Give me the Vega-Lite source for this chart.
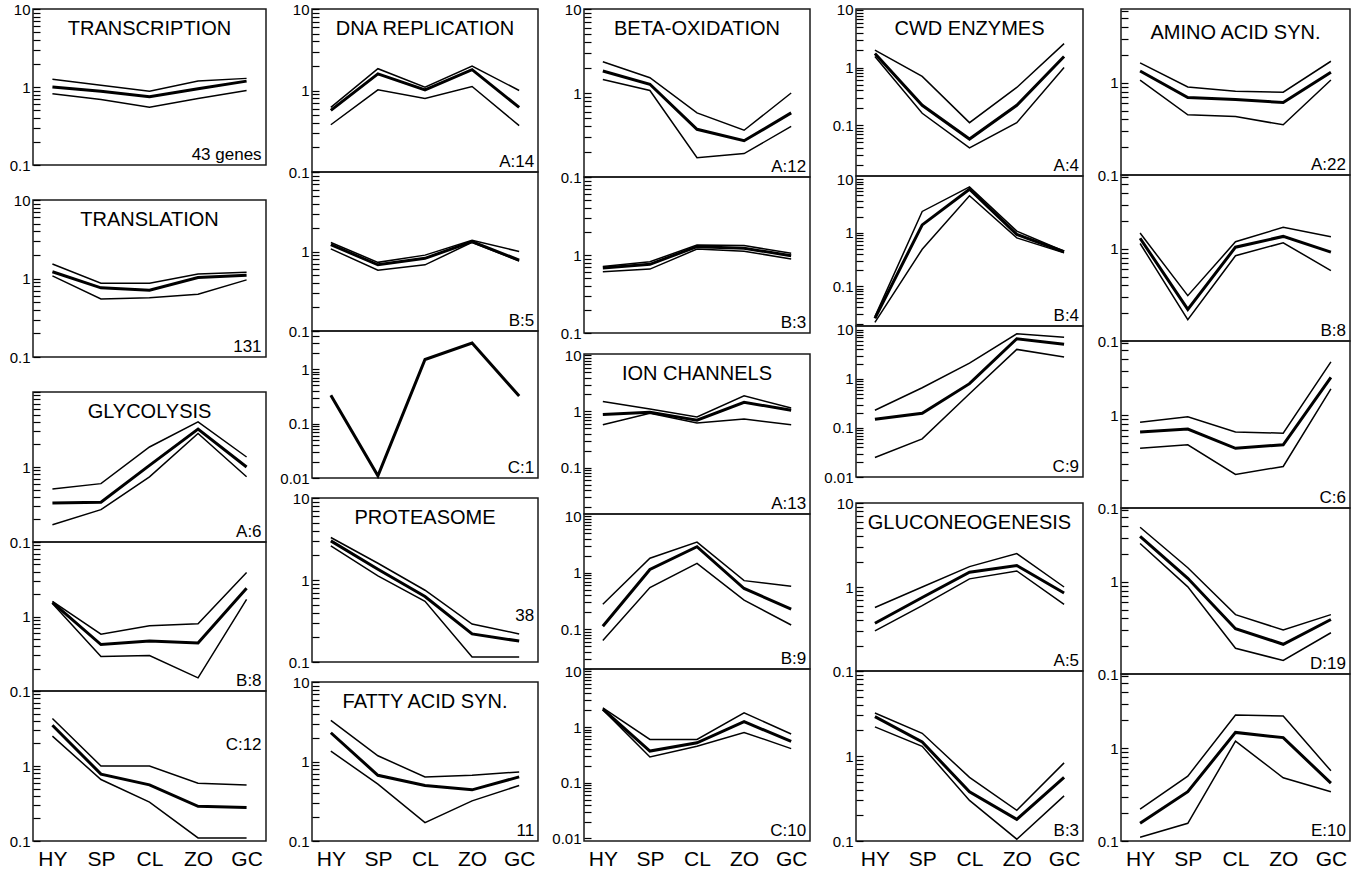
{
"$schema":"https://vega.github.io/schema/vega-lite/v6.json",
"padding":{"left":8,"top":1,"right":2,"bottom":0},
"background":"white",
"spacing":12,
"config":{
 "view":{"stroke":"#1a1a1a","strokeWidth":1.5},
 "axis":{"labelFont":"Liberation Sans","labelColor":"black","grid":false,"domain":false,"labelOverlap":false},
 "axisY":{"offset":-7,"ticks":true,"tickSize":7,"tickWidth":1.2,"tickColor":"#000000","tickOpacity":1,"labelPadding":3,"labelFontSize":15},
 "axisX":{"ticks":false,"labelFontSize":21,"labelPadding":7,"labelAngle":0},
 "text":{"font":"Liberation Sans","color":"black"},
 "line":{"color":"black","strokeJoin":"miter"}
},
"datasets":{"d":[
{"p":"T","k":"h","s":"HY","v":1.26},{"p":"T","k":"h","s":"SP","v":1.05},{"p":"T","k":"h","s":"CL","v":0.88},{"p":"T","k":"h","s":"ZO","v":1.19},{"p":"T","k":"h","s":"GC","v":1.29},
{"p":"T","k":"m","s":"HY","v":1.0},{"p":"T","k":"m","s":"SP","v":0.88},{"p":"T","k":"m","s":"CL","v":0.75},{"p":"T","k":"m","s":"ZO","v":0.95},{"p":"T","k":"m","s":"GC","v":1.19},
{"p":"T","k":"l","s":"HY","v":0.82},{"p":"T","k":"l","s":"SP","v":0.69},{"p":"T","k":"l","s":"CL","v":0.55},{"p":"T","k":"l","s":"ZO","v":0.71},{"p":"T","k":"l","s":"GC","v":0.9},
{"p":"Tr","k":"h","s":"HY","v":1.53},{"p":"Tr","k":"h","s":"SP","v":0.87},{"p":"Tr","k":"h","s":"CL","v":0.87},{"p":"Tr","k":"h","s":"ZO","v":1.14},{"p":"Tr","k":"h","s":"GC","v":1.2},
{"p":"Tr","k":"m","s":"HY","v":1.22},{"p":"Tr","k":"m","s":"SP","v":0.76},{"p":"Tr","k":"m","s":"CL","v":0.71},{"p":"Tr","k":"m","s":"ZO","v":1.03},{"p":"Tr","k":"m","s":"GC","v":1.1},
{"p":"Tr","k":"l","s":"HY","v":1.08},{"p":"Tr","k":"l","s":"SP","v":0.55},{"p":"Tr","k":"l","s":"CL","v":0.57},{"p":"Tr","k":"l","s":"ZO","v":0.63},{"p":"Tr","k":"l","s":"GC","v":0.96},
{"p":"GA","k":"h","s":"HY","v":0.51},{"p":"GA","k":"h","s":"SP","v":0.6},{"p":"GA","k":"h","s":"CL","v":1.85},{"p":"GA","k":"h","s":"ZO","v":4.0},{"p":"GA","k":"h","s":"GC","v":1.36},
{"p":"GA","k":"m","s":"HY","v":0.33},{"p":"GA","k":"m","s":"SP","v":0.34},{"p":"GA","k":"m","s":"CL","v":1.05},{"p":"GA","k":"m","s":"ZO","v":3.2},{"p":"GA","k":"m","s":"GC","v":1.0},
{"p":"GA","k":"l","s":"HY","v":0.17},{"p":"GA","k":"l","s":"SP","v":0.27},{"p":"GA","k":"l","s":"CL","v":0.74},{"p":"GA","k":"l","s":"ZO","v":2.8},{"p":"GA","k":"l","s":"GC","v":0.74},
{"p":"GB","k":"h","s":"HY","v":1.6},{"p":"GB","k":"h","s":"SP","v":0.58},{"p":"GB","k":"h","s":"CL","v":0.75},{"p":"GB","k":"h","s":"ZO","v":0.8},{"p":"GB","k":"h","s":"GC","v":3.9},
{"p":"GB","k":"m","s":"HY","v":1.55},{"p":"GB","k":"m","s":"SP","v":0.42},{"p":"GB","k":"m","s":"CL","v":0.47},{"p":"GB","k":"m","s":"ZO","v":0.44},{"p":"GB","k":"m","s":"GC","v":2.4},
{"p":"GB","k":"l","s":"HY","v":1.5},{"p":"GB","k":"l","s":"SP","v":0.29},{"p":"GB","k":"l","s":"CL","v":0.3},{"p":"GB","k":"l","s":"ZO","v":0.15},{"p":"GB","k":"l","s":"GC","v":1.7},
{"p":"GC","k":"h","s":"HY","v":4.3},{"p":"GC","k":"h","s":"SP","v":1.0},{"p":"GC","k":"h","s":"CL","v":1.0},{"p":"GC","k":"h","s":"ZO","v":0.59},{"p":"GC","k":"h","s":"GC","v":0.56},
{"p":"GC","k":"m","s":"HY","v":3.5},{"p":"GC","k":"m","s":"SP","v":0.78},{"p":"GC","k":"m","s":"CL","v":0.56},{"p":"GC","k":"m","s":"ZO","v":0.29},{"p":"GC","k":"m","s":"GC","v":0.28},
{"p":"GC","k":"l","s":"HY","v":2.5},{"p":"GC","k":"l","s":"SP","v":0.66},{"p":"GC","k":"l","s":"CL","v":0.33},{"p":"GC","k":"l","s":"ZO","v":0.11},{"p":"GC","k":"l","s":"GC","v":0.11},
{"p":"DA","k":"h","s":"HY","v":0.62},{"p":"DA","k":"h","s":"SP","v":1.85},{"p":"DA","k":"h","s":"CL","v":1.1},{"p":"DA","k":"h","s":"ZO","v":2.0},{"p":"DA","k":"h","s":"GC","v":1.0},
{"p":"DA","k":"m","s":"HY","v":0.57},{"p":"DA","k":"m","s":"SP","v":1.6},{"p":"DA","k":"m","s":"CL","v":1.02},{"p":"DA","k":"m","s":"ZO","v":1.8},{"p":"DA","k":"m","s":"GC","v":0.62},
{"p":"DA","k":"l","s":"HY","v":0.38},{"p":"DA","k":"l","s":"SP","v":1.02},{"p":"DA","k":"l","s":"CL","v":0.8},{"p":"DA","k":"l","s":"ZO","v":1.12},{"p":"DA","k":"l","s":"GC","v":0.37},
{"p":"DB","k":"h","s":"HY","v":1.3},{"p":"DB","k":"h","s":"SP","v":0.73},{"p":"DB","k":"h","s":"CL","v":0.9},{"p":"DB","k":"h","s":"ZO","v":1.38},{"p":"DB","k":"h","s":"GC","v":1.0},
{"p":"DB","k":"m","s":"HY","v":1.22},{"p":"DB","k":"m","s":"SP","v":0.68},{"p":"DB","k":"m","s":"CL","v":0.82},{"p":"DB","k":"m","s":"ZO","v":1.33},{"p":"DB","k":"m","s":"GC","v":0.78},
{"p":"DB","k":"l","s":"HY","v":1.08},{"p":"DB","k":"l","s":"SP","v":0.58},{"p":"DB","k":"l","s":"CL","v":0.68},{"p":"DB","k":"l","s":"ZO","v":1.3},{"p":"DB","k":"l","s":"GC","v":0.76},
{"p":"DC","k":"m","s":"HY","v":0.33},{"p":"DC","k":"m","s":"SP","v":0.011},{"p":"DC","k":"m","s":"CL","v":1.5},{"p":"DC","k":"m","s":"ZO","v":3.0},{"p":"DC","k":"m","s":"GC","v":0.32},
{"p":"P","k":"h","s":"HY","v":3.3},{"p":"P","k":"h","s":"SP","v":1.6},{"p":"P","k":"h","s":"CL","v":0.75},{"p":"P","k":"h","s":"ZO","v":0.29},{"p":"P","k":"h","s":"GC","v":0.22},
{"p":"P","k":"m","s":"HY","v":3.0},{"p":"P","k":"m","s":"SP","v":1.35},{"p":"P","k":"m","s":"CL","v":0.63},{"p":"P","k":"m","s":"ZO","v":0.22},{"p":"P","k":"m","s":"GC","v":0.18},
{"p":"P","k":"l","s":"HY","v":2.6},{"p":"P","k":"l","s":"SP","v":1.12},{"p":"P","k":"l","s":"CL","v":0.55},{"p":"P","k":"l","s":"ZO","v":0.115},{"p":"P","k":"l","s":"GC","v":0.115},
{"p":"F","k":"h","s":"HY","v":3.3},{"p":"F","k":"h","s":"SP","v":1.18},{"p":"F","k":"h","s":"CL","v":0.64},{"p":"F","k":"h","s":"ZO","v":0.67},{"p":"F","k":"h","s":"GC","v":0.74},
{"p":"F","k":"m","s":"HY","v":2.3},{"p":"F","k":"m","s":"SP","v":0.67},{"p":"F","k":"m","s":"CL","v":0.5},{"p":"F","k":"m","s":"ZO","v":0.44},{"p":"F","k":"m","s":"GC","v":0.64},
{"p":"F","k":"l","s":"HY","v":1.35},{"p":"F","k":"l","s":"SP","v":0.52},{"p":"F","k":"l","s":"CL","v":0.17},{"p":"F","k":"l","s":"ZO","v":0.32},{"p":"F","k":"l","s":"GC","v":0.5},
{"p":"BA","k":"h","s":"HY","v":2.35},{"p":"BA","k":"h","s":"SP","v":1.52},{"p":"BA","k":"h","s":"CL","v":0.58},{"p":"BA","k":"h","s":"ZO","v":0.36},{"p":"BA","k":"h","s":"GC","v":1.0},
{"p":"BA","k":"m","s":"HY","v":1.83},{"p":"BA","k":"m","s":"SP","v":1.27},{"p":"BA","k":"m","s":"CL","v":0.37},{"p":"BA","k":"m","s":"ZO","v":0.27},{"p":"BA","k":"m","s":"GC","v":0.58},
{"p":"BA","k":"l","s":"HY","v":1.45},{"p":"BA","k":"l","s":"SP","v":1.07},{"p":"BA","k":"l","s":"CL","v":0.17},{"p":"BA","k":"l","s":"ZO","v":0.19},{"p":"BA","k":"l","s":"GC","v":0.4},
{"p":"BB","k":"h","s":"HY","v":0.71},{"p":"BB","k":"h","s":"SP","v":0.82},{"p":"BB","k":"h","s":"CL","v":1.34},{"p":"BB","k":"h","s":"ZO","v":1.32},{"p":"BB","k":"h","s":"GC","v":1.05},
{"p":"BB","k":"m","s":"HY","v":0.68},{"p":"BB","k":"m","s":"SP","v":0.76},{"p":"BB","k":"m","s":"CL","v":1.28},{"p":"BB","k":"m","s":"ZO","v":1.22},{"p":"BB","k":"m","s":"GC","v":0.98},
{"p":"BB","k":"l","s":"HY","v":0.61},{"p":"BB","k":"l","s":"SP","v":0.66},{"p":"BB","k":"l","s":"CL","v":1.19},{"p":"BB","k":"l","s":"ZO","v":1.12},{"p":"BB","k":"l","s":"GC","v":0.89},
{"p":"IA","k":"h","s":"HY","v":1.5},{"p":"IA","k":"h","s":"SP","v":1.1},{"p":"IA","k":"h","s":"CL","v":0.8},{"p":"IA","k":"h","s":"ZO","v":1.9},{"p":"IA","k":"h","s":"GC","v":1.15},
{"p":"IA","k":"m","s":"HY","v":0.88},{"p":"IA","k":"m","s":"SP","v":0.97},{"p":"IA","k":"m","s":"CL","v":0.7},{"p":"IA","k":"m","s":"ZO","v":1.45},{"p":"IA","k":"m","s":"GC","v":1.05},
{"p":"IA","k":"l","s":"HY","v":0.58},{"p":"IA","k":"l","s":"SP","v":0.93},{"p":"IA","k":"l","s":"CL","v":0.62},{"p":"IA","k":"l","s":"ZO","v":0.73},{"p":"IA","k":"l","s":"GC","v":0.58},
{"p":"IB","k":"h","s":"HY","v":0.28},{"p":"IB","k":"h","s":"SP","v":1.82},{"p":"IB","k":"h","s":"CL","v":3.5},{"p":"IB","k":"h","s":"ZO","v":0.73},{"p":"IB","k":"h","s":"GC","v":0.58},
{"p":"IB","k":"m","s":"HY","v":0.114},{"p":"IB","k":"m","s":"SP","v":1.15},{"p":"IB","k":"m","s":"CL","v":2.9},{"p":"IB","k":"m","s":"ZO","v":0.53},{"p":"IB","k":"m","s":"GC","v":0.23},
{"p":"IB","k":"l","s":"HY","v":0.064},{"p":"IB","k":"l","s":"SP","v":0.55},{"p":"IB","k":"l","s":"CL","v":1.47},{"p":"IB","k":"l","s":"ZO","v":0.33},{"p":"IB","k":"l","s":"GC","v":0.12},
{"p":"IC","k":"h","s":"HY","v":2.2},{"p":"IC","k":"h","s":"SP","v":0.6},{"p":"IC","k":"h","s":"CL","v":0.6},{"p":"IC","k":"h","s":"ZO","v":1.8},{"p":"IC","k":"h","s":"GC","v":0.75},
{"p":"IC","k":"m","s":"HY","v":2.1},{"p":"IC","k":"m","s":"SP","v":0.37},{"p":"IC","k":"m","s":"CL","v":0.52},{"p":"IC","k":"m","s":"ZO","v":1.25},{"p":"IC","k":"m","s":"GC","v":0.55},
{"p":"IC","k":"l","s":"HY","v":2.05},{"p":"IC","k":"l","s":"SP","v":0.29},{"p":"IC","k":"l","s":"CL","v":0.45},{"p":"IC","k":"l","s":"ZO","v":0.8},{"p":"IC","k":"l","s":"GC","v":0.41},
{"p":"CA","k":"h","s":"HY","v":2.0},{"p":"CA","k":"h","s":"SP","v":0.7},{"p":"CA","k":"h","s":"CL","v":0.11},{"p":"CA","k":"h","s":"ZO","v":0.45},{"p":"CA","k":"h","s":"GC","v":2.6},
{"p":"CA","k":"m","s":"HY","v":1.75},{"p":"CA","k":"m","s":"SP","v":0.22},{"p":"CA","k":"m","s":"CL","v":0.057},{"p":"CA","k":"m","s":"ZO","v":0.22},{"p":"CA","k":"m","s":"GC","v":1.55},
{"p":"CA","k":"l","s":"HY","v":1.55},{"p":"CA","k":"l","s":"SP","v":0.16},{"p":"CA","k":"l","s":"CL","v":0.04},{"p":"CA","k":"l","s":"ZO","v":0.11},{"p":"CA","k":"l","s":"GC","v":1.0},
{"p":"CB","k":"h","s":"HY","v":0.027},{"p":"CB","k":"h","s":"SP","v":2.5},{"p":"CB","k":"h","s":"CL","v":7.2},{"p":"CB","k":"h","s":"ZO","v":1.07},{"p":"CB","k":"h","s":"GC","v":0.45},
{"p":"CB","k":"m","s":"HY","v":0.025},{"p":"CB","k":"m","s":"SP","v":1.4},{"p":"CB","k":"m","s":"CL","v":6.5},{"p":"CB","k":"m","s":"ZO","v":0.93},{"p":"CB","k":"m","s":"GC","v":0.44},
{"p":"CB","k":"l","s":"HY","v":0.021},{"p":"CB","k":"l","s":"SP","v":0.49},{"p":"CB","k":"l","s":"CL","v":4.9},{"p":"CB","k":"l","s":"ZO","v":0.8},{"p":"CB","k":"l","s":"GC","v":0.42},
{"p":"CC","k":"h","s":"HY","v":0.23},{"p":"CC","k":"h","s":"SP","v":0.66},{"p":"CC","k":"h","s":"CL","v":2.1},{"p":"CC","k":"h","s":"ZO","v":8.3},{"p":"CC","k":"h","s":"GC","v":7.1},
{"p":"CC","k":"m","s":"HY","v":0.15},{"p":"CC","k":"m","s":"SP","v":0.2},{"p":"CC","k":"m","s":"CL","v":0.8},{"p":"CC","k":"m","s":"ZO","v":6.6},{"p":"CC","k":"m","s":"GC","v":5.1},
{"p":"CC","k":"l","s":"HY","v":0.025},{"p":"CC","k":"l","s":"SP","v":0.06},{"p":"CC","k":"l","s":"CL","v":0.5},{"p":"CC","k":"l","s":"ZO","v":4.0},{"p":"CC","k":"l","s":"GC","v":2.8},
{"p":"NA","k":"h","s":"HY","v":0.57},{"p":"NA","k":"h","s":"SP","v":1.0},{"p":"NA","k":"h","s":"CL","v":1.75},{"p":"NA","k":"h","s":"ZO","v":2.5},{"p":"NA","k":"h","s":"GC","v":1.0},
{"p":"NA","k":"m","s":"HY","v":0.37},{"p":"NA","k":"m","s":"SP","v":0.75},{"p":"NA","k":"m","s":"CL","v":1.5},{"p":"NA","k":"m","s":"ZO","v":1.8},{"p":"NA","k":"m","s":"GC","v":0.85},
{"p":"NA","k":"l","s":"HY","v":0.3},{"p":"NA","k":"l","s":"SP","v":0.6},{"p":"NA","k":"l","s":"CL","v":1.25},{"p":"NA","k":"l","s":"ZO","v":1.55},{"p":"NA","k":"l","s":"GC","v":0.62},
{"p":"NB","k":"h","s":"HY","v":3.2},{"p":"NB","k":"h","s":"SP","v":1.85},{"p":"NB","k":"h","s":"CL","v":0.56},{"p":"NB","k":"h","s":"ZO","v":0.23},{"p":"NB","k":"h","s":"GC","v":0.83},
{"p":"NB","k":"m","s":"HY","v":2.9},{"p":"NB","k":"m","s":"SP","v":1.46},{"p":"NB","k":"m","s":"CL","v":0.38},{"p":"NB","k":"m","s":"ZO","v":0.18},{"p":"NB","k":"m","s":"GC","v":0.56},
{"p":"NB","k":"l","s":"HY","v":2.2},{"p":"NB","k":"l","s":"SP","v":1.3},{"p":"NB","k":"l","s":"CL","v":0.3},{"p":"NB","k":"l","s":"ZO","v":0.105},{"p":"NB","k":"l","s":"GC","v":0.34},
{"p":"AA","k":"h","s":"HY","v":1.64},{"p":"AA","k":"h","s":"SP","v":0.9},{"p":"AA","k":"h","s":"CL","v":0.81},{"p":"AA","k":"h","s":"ZO","v":0.79},{"p":"AA","k":"h","s":"GC","v":1.71},
{"p":"AA","k":"m","s":"HY","v":1.34},{"p":"AA","k":"m","s":"SP","v":0.69},{"p":"AA","k":"m","s":"CL","v":0.66},{"p":"AA","k":"m","s":"ZO","v":0.61},{"p":"AA","k":"m","s":"GC","v":1.3},
{"p":"AA","k":"l","s":"HY","v":1.07},{"p":"AA","k":"l","s":"SP","v":0.45},{"p":"AA","k":"l","s":"CL","v":0.43},{"p":"AA","k":"l","s":"ZO","v":0.35},{"p":"AA","k":"l","s":"GC","v":1.07},
{"p":"AB","k":"h","s":"HY","v":1.48},{"p":"AB","k":"h","s":"SP","v":0.31},{"p":"AB","k":"h","s":"CL","v":1.19},{"p":"AB","k":"h","s":"ZO","v":1.71},{"p":"AB","k":"h","s":"GC","v":1.35},
{"p":"AB","k":"m","s":"HY","v":1.3},{"p":"AB","k":"m","s":"SP","v":0.22},{"p":"AB","k":"m","s":"CL","v":1.04},{"p":"AB","k":"m","s":"ZO","v":1.36},{"p":"AB","k":"m","s":"GC","v":0.92},
{"p":"AB","k":"l","s":"HY","v":1.14},{"p":"AB","k":"l","s":"SP","v":0.17},{"p":"AB","k":"l","s":"CL","v":0.84},{"p":"AB","k":"l","s":"ZO","v":1.16},{"p":"AB","k":"l","s":"GC","v":0.58},
{"p":"AC","k":"h","s":"HY","v":0.84},{"p":"AC","k":"h","s":"SP","v":0.96},{"p":"AC","k":"h","s":"CL","v":0.66},{"p":"AC","k":"h","s":"ZO","v":0.64},{"p":"AC","k":"h","s":"GC","v":3.75},
{"p":"AC","k":"m","s":"HY","v":0.66},{"p":"AC","k":"m","s":"SP","v":0.71},{"p":"AC","k":"m","s":"CL","v":0.44},{"p":"AC","k":"m","s":"ZO","v":0.48},{"p":"AC","k":"m","s":"GC","v":2.55},
{"p":"AC","k":"l","s":"HY","v":0.44},{"p":"AC","k":"l","s":"SP","v":0.48},{"p":"AC","k":"l","s":"CL","v":0.23},{"p":"AC","k":"l","s":"ZO","v":0.28},{"p":"AC","k":"l","s":"GC","v":1.92},
{"p":"AD","k":"h","s":"HY","v":3.9},{"p":"AD","k":"h","s":"SP","v":1.42},{"p":"AD","k":"h","s":"CL","v":0.44},{"p":"AD","k":"h","s":"ZO","v":0.3},{"p":"AD","k":"h","s":"GC","v":0.44},
{"p":"AD","k":"m","s":"HY","v":3.1},{"p":"AD","k":"m","s":"SP","v":1.09},{"p":"AD","k":"m","s":"CL","v":0.31},{"p":"AD","k":"m","s":"ZO","v":0.21},{"p":"AD","k":"m","s":"GC","v":0.39},
{"p":"AD","k":"l","s":"HY","v":2.6},{"p":"AD","k":"l","s":"SP","v":0.88},{"p":"AD","k":"l","s":"CL","v":0.19},{"p":"AD","k":"l","s":"ZO","v":0.14},{"p":"AD","k":"l","s":"GC","v":0.28},
{"p":"AE","k":"h","s":"HY","v":0.22},{"p":"AE","k":"h","s":"SP","v":0.5},{"p":"AE","k":"h","s":"CL","v":2.28},{"p":"AE","k":"h","s":"ZO","v":2.22},{"p":"AE","k":"h","s":"GC","v":0.57},
{"p":"AE","k":"m","s":"HY","v":0.155},{"p":"AE","k":"m","s":"SP","v":0.34},{"p":"AE","k":"m","s":"CL","v":1.48},{"p":"AE","k":"m","s":"ZO","v":1.3},{"p":"AE","k":"m","s":"GC","v":0.42},
{"p":"AE","k":"l","s":"HY","v":0.11},{"p":"AE","k":"l","s":"SP","v":0.155},{"p":"AE","k":"l","s":"CL","v":1.19},{"p":"AE","k":"l","s":"ZO","v":0.48},{"p":"AE","k":"l","s":"GC","v":0.34}
]},
"hconcat":[
{"spacing":0,"bounds":"flush","vconcat":[
 {"width":233,"height":156,"layer":[
  {"data":{"name":"d"},"transform":[{"filter":"datum.p=='T'"}],"mark":"line","encoding":{"x":{"field":"s","type":"ordinal","sort":["HY","SP","CL","ZO","GC"],"scale":{"type":"point","domain":["HY","SP","CL","ZO","GC"],"padding":0.4},"axis":null},"y":{"field":"v","type":"quantitative","scale":{"type":"log","domain":[0.1,10],"nice":false},"axis":{"title":null,"values":[0.1,0.2,0.3,0.4,0.5,0.6,0.7,0.8,0.9,1,2,3,4,5,6,7,8,9,10],"labelExpr":"datum.value==10?'10':datum.value==1?'1':datum.value==0.1?'0.1':''"}},"detail":{"field":"k"},"strokeWidth":{"condition":{"test":"datum.k=='m'","value":3},"value":1.5}}},
  {"data":{"values":[{"t":"TRANSCRIPTION"}]},"mark":{"type":"text","baseline":"top","dy":10,"fontSize":20},"encoding":{"x":{"datum":"CL","type":"ordinal"},"y":{"datum":10,"type":"quantitative"},"text":{"field":"t"}}},
  {"data":{"values":[{"t":"43 genes"}]},"mark":{"type":"text","align":"right","baseline":"alphabetic","dx":15,"dy":-5,"fontSize":17},"encoding":{"x":{"datum":"GC","type":"ordinal"},"y":{"datum":0.1,"type":"quantitative"},"text":{"field":"t"}}}
 ]},
 {"width":233,"height":35,"data":{"values":[]},"mark":"point","encoding":{},"view":{"stroke":null}},
 {"width":233,"height":157,"layer":[
  {"data":{"name":"d"},"transform":[{"filter":"datum.p=='Tr'"}],"mark":"line","encoding":{"x":{"field":"s","type":"ordinal","sort":["HY","SP","CL","ZO","GC"],"scale":{"type":"point","domain":["HY","SP","CL","ZO","GC"],"padding":0.4},"axis":null},"y":{"field":"v","type":"quantitative","scale":{"type":"log","domain":[0.1,10],"nice":false},"axis":{"title":null,"values":[0.1,0.2,0.3,0.4,0.5,0.6,0.7,0.8,0.9,1,2,3,4,5,6,7,8,9,10],"labelExpr":"datum.value==10?'10':datum.value==1?'1':datum.value==0.1?'0.1':''"}},"detail":{"field":"k"},"strokeWidth":{"condition":{"test":"datum.k=='m'","value":3},"value":1.5}}},
  {"data":{"values":[{"t":"TRANSLATION"}]},"mark":{"type":"text","baseline":"top","dy":10,"fontSize":20},"encoding":{"x":{"datum":"CL","type":"ordinal"},"y":{"datum":10,"type":"quantitative"},"text":{"field":"t"}}},
  {"data":{"values":[{"t":"131"}]},"mark":{"type":"text","align":"right","baseline":"alphabetic","dx":15,"dy":-5,"fontSize":17},"encoding":{"x":{"datum":"GC","type":"ordinal"},"y":{"datum":0.1,"type":"quantitative"},"text":{"field":"t"}}}
 ]},
 {"width":233,"height":35,"data":{"values":[]},"mark":"point","encoding":{},"view":{"stroke":null}},
 {"width":233,"height":150,"layer":[
  {"data":{"name":"d"},"transform":[{"filter":"datum.p=='GA'"}],"mark":"line","encoding":{"x":{"field":"s","type":"ordinal","sort":["HY","SP","CL","ZO","GC"],"scale":{"type":"point","domain":["HY","SP","CL","ZO","GC"],"padding":0.4},"axis":null},"y":{"field":"v","type":"quantitative","scale":{"type":"log","domain":[0.1,10],"nice":false},"axis":{"title":null,"values":[0.1,0.2,0.3,0.4,0.5,0.6,0.7,0.8,0.9,1,2,3,4,5,6,7,8,9,10],"labelExpr":"datum.value==1?'1':datum.value==0.1?'0.1':''"}},"detail":{"field":"k"},"strokeWidth":{"condition":{"test":"datum.k=='m'","value":3},"value":1.5}}},
  {"data":{"values":[{"t":"GLYCOLYSIS"}]},"mark":{"type":"text","baseline":"top","dy":10,"fontSize":20},"encoding":{"x":{"datum":"CL","type":"ordinal"},"y":{"datum":10,"type":"quantitative"},"text":{"field":"t"}}},
  {"data":{"values":[{"t":"A:6"}]},"mark":{"type":"text","align":"right","baseline":"alphabetic","dx":15,"dy":-5,"fontSize":17},"encoding":{"x":{"datum":"GC","type":"ordinal"},"y":{"datum":0.1,"type":"quantitative"},"text":{"field":"t"}}}
 ]},
 {"width":233,"height":149,"layer":[
  {"data":{"name":"d"},"transform":[{"filter":"datum.p=='GB'"}],"mark":"line","encoding":{"x":{"field":"s","type":"ordinal","sort":["HY","SP","CL","ZO","GC"],"scale":{"type":"point","domain":["HY","SP","CL","ZO","GC"],"padding":0.4},"axis":null},"y":{"field":"v","type":"quantitative","scale":{"type":"log","domain":[0.1,10],"nice":false},"axis":{"title":null,"values":[0.1,0.2,0.3,0.4,0.5,0.6,0.7,0.8,0.9,1,2,3,4,5,6,7,8,9,10],"labelExpr":"datum.value==1?'1':datum.value==0.1?'0.1':''"}},"detail":{"field":"k"},"strokeWidth":{"condition":{"test":"datum.k=='m'","value":3},"value":1.5}}},
  {"data":{"values":[{"t":"B:8"}]},"mark":{"type":"text","align":"right","baseline":"alphabetic","dx":15,"dy":-5,"fontSize":17},"encoding":{"x":{"datum":"GC","type":"ordinal"},"y":{"datum":0.1,"type":"quantitative"},"text":{"field":"t"}}}
 ]},
 {"width":233,"height":150,"layer":[
  {"data":{"name":"d"},"transform":[{"filter":"datum.p=='GC'"}],"mark":"line","encoding":{"x":{"field":"s","type":"ordinal","sort":["HY","SP","CL","ZO","GC"],"scale":{"type":"point","domain":["HY","SP","CL","ZO","GC"],"padding":0.4},"axis":{"title":null}},"y":{"field":"v","type":"quantitative","scale":{"type":"log","domain":[0.1,10],"nice":false},"axis":{"title":null,"values":[0.1,0.2,0.3,0.4,0.5,0.6,0.7,0.8,0.9,1,2,3,4,5,6,7,8,9,10],"labelExpr":"datum.value==1?'1':datum.value==0.1?'0.1':''"}},"detail":{"field":"k"},"strokeWidth":{"condition":{"test":"datum.k=='m'","value":3},"value":1.5}}},
  {"data":{"values":[{"t":"C:12"}]},"mark":{"type":"text","align":"right","baseline":"middle","dx":15,"fontSize":17},"encoding":{"x":{"datum":"GC","type":"ordinal"},"y":{"datum":1.9,"type":"quantitative"},"text":{"field":"t"}}}
 ]}
]},
{"spacing":0,"bounds":"flush","vconcat":[
 {"width":226,"height":163,"layer":[
  {"data":{"name":"d"},"transform":[{"filter":"datum.p=='DA'"}],"mark":"line","encoding":{"x":{"field":"s","type":"ordinal","sort":["HY","SP","CL","ZO","GC"],"scale":{"type":"point","domain":["HY","SP","CL","ZO","GC"],"padding":0.4},"axis":null},"y":{"field":"v","type":"quantitative","scale":{"type":"log","domain":[0.1,10],"nice":false},"axis":{"title":null,"values":[0.1,0.2,0.3,0.4,0.5,0.6,0.7,0.8,0.9,1,2,3,4,5,6,7,8,9,10],"labelExpr":"datum.value==10?'10':datum.value==1?'1':datum.value==0.1?'0.1':''"}},"detail":{"field":"k"},"strokeWidth":{"condition":{"test":"datum.k=='m'","value":3},"value":1.5}}},
  {"data":{"values":[{"t":"DNA REPLICATION"}]},"mark":{"type":"text","baseline":"top","dy":10,"fontSize":20},"encoding":{"x":{"datum":"CL","type":"ordinal"},"y":{"datum":10,"type":"quantitative"},"text":{"field":"t"}}},
  {"data":{"values":[{"t":"A:14"}]},"mark":{"type":"text","align":"right","baseline":"alphabetic","dx":15,"dy":-5,"fontSize":17},"encoding":{"x":{"datum":"GC","type":"ordinal"},"y":{"datum":0.1,"type":"quantitative"},"text":{"field":"t"}}}
 ]},
 {"width":226,"height":159,"layer":[
  {"data":{"name":"d"},"transform":[{"filter":"datum.p=='DB'"}],"mark":"line","encoding":{"x":{"field":"s","type":"ordinal","sort":["HY","SP","CL","ZO","GC"],"scale":{"type":"point","domain":["HY","SP","CL","ZO","GC"],"padding":0.4},"axis":null},"y":{"field":"v","type":"quantitative","scale":{"type":"log","domain":[0.1,10],"nice":false},"axis":{"title":null,"values":[0.1,0.2,0.3,0.4,0.5,0.6,0.7,0.8,0.9,1,2,3,4,5,6,7,8,9,10],"labelExpr":"datum.value==1?'1':datum.value==0.1?'0.1':''"}},"detail":{"field":"k"},"strokeWidth":{"condition":{"test":"datum.k=='m'","value":3},"value":1.5}}},
  {"data":{"values":[{"t":"B:5"}]},"mark":{"type":"text","align":"right","baseline":"alphabetic","dx":15,"dy":-5,"fontSize":17},"encoding":{"x":{"datum":"GC","type":"ordinal"},"y":{"datum":0.1,"type":"quantitative"},"text":{"field":"t"}}}
 ]},
 {"width":226,"height":147,"layer":[
  {"data":{"name":"d"},"transform":[{"filter":"datum.p=='DC'"}],"mark":"line","encoding":{"x":{"field":"s","type":"ordinal","sort":["HY","SP","CL","ZO","GC"],"scale":{"type":"point","domain":["HY","SP","CL","ZO","GC"],"padding":0.4},"axis":null},"y":{"field":"v","type":"quantitative","scale":{"type":"log","domain":[0.01,5],"nice":false},"axis":{"title":null,"values":[0.01,0.02,0.03,0.04,0.05,0.06,0.07,0.08,0.09,0.1,0.2,0.3,0.4,0.5,0.6,0.7,0.8,0.9,1,2,3,4,5],"labelExpr":"datum.value==1?'1':datum.value==0.1?'0.1':datum.value==0.01?'0.01':''"}},"detail":{"field":"k"},"strokeWidth":{"condition":{"test":"datum.k=='m'","value":3},"value":1.5}}},
  {"data":{"values":[{"t":"C:1"}]},"mark":{"type":"text","align":"right","baseline":"alphabetic","dx":15,"dy":-5,"fontSize":17},"encoding":{"x":{"datum":"GC","type":"ordinal"},"y":{"datum":0.01,"type":"quantitative"},"text":{"field":"t"}}}
 ]},
 {"width":226,"height":20,"data":{"values":[]},"mark":"point","encoding":{},"view":{"stroke":null}},
 {"width":226,"height":164,"layer":[
  {"data":{"name":"d"},"transform":[{"filter":"datum.p=='P'"}],"mark":"line","encoding":{"x":{"field":"s","type":"ordinal","sort":["HY","SP","CL","ZO","GC"],"scale":{"type":"point","domain":["HY","SP","CL","ZO","GC"],"padding":0.4},"axis":null},"y":{"field":"v","type":"quantitative","scale":{"type":"log","domain":[0.1,10],"nice":false},"axis":{"title":null,"values":[0.1,0.2,0.3,0.4,0.5,0.6,0.7,0.8,0.9,1,2,3,4,5,6,7,8,9,10],"labelExpr":"datum.value==10?'10':datum.value==1?'1':datum.value==0.1?'0.1':''"}},"detail":{"field":"k"},"strokeWidth":{"condition":{"test":"datum.k=='m'","value":3},"value":1.5}}},
  {"data":{"values":[{"t":"PROTEASOME"}]},"mark":{"type":"text","baseline":"top","dy":10,"fontSize":20},"encoding":{"x":{"datum":"CL","type":"ordinal"},"y":{"datum":10,"type":"quantitative"},"text":{"field":"t"}}},
  {"data":{"values":[{"t":"38"}]},"mark":{"type":"text","align":"right","baseline":"middle","dx":15,"fontSize":17},"encoding":{"x":{"datum":"GC","type":"ordinal"},"y":{"datum":0.36,"type":"quantitative"},"text":{"field":"t"}}}
 ]},
 {"width":226,"height":20,"data":{"values":[]},"mark":"point","encoding":{},"view":{"stroke":null}},
 {"width":226,"height":159,"layer":[
  {"data":{"name":"d"},"transform":[{"filter":"datum.p=='F'"}],"mark":"line","encoding":{"x":{"field":"s","type":"ordinal","sort":["HY","SP","CL","ZO","GC"],"scale":{"type":"point","domain":["HY","SP","CL","ZO","GC"],"padding":0.4},"axis":{"title":null}},"y":{"field":"v","type":"quantitative","scale":{"type":"log","domain":[0.1,10],"nice":false},"axis":{"title":null,"values":[0.1,0.2,0.3,0.4,0.5,0.6,0.7,0.8,0.9,1,2,3,4,5,6,7,8,9,10],"labelExpr":"datum.value==10?'10':datum.value==1?'1':datum.value==0.1?'0.1':''"}},"detail":{"field":"k"},"strokeWidth":{"condition":{"test":"datum.k=='m'","value":3},"value":1.5}}},
  {"data":{"values":[{"t":"FATTY ACID SYN."}]},"mark":{"type":"text","baseline":"top","dy":10,"fontSize":20},"encoding":{"x":{"datum":"CL","type":"ordinal"},"y":{"datum":10,"type":"quantitative"},"text":{"field":"t"}}},
  {"data":{"values":[{"t":"11"}]},"mark":{"type":"text","align":"right","baseline":"alphabetic","dx":15,"dy":-5,"fontSize":17},"encoding":{"x":{"datum":"GC","type":"ordinal"},"y":{"datum":0.1,"type":"quantitative"},"text":{"field":"t"}}}
 ]}
]},
{"spacing":0,"bounds":"flush","vconcat":[
 {"width":226,"height":168,"layer":[
  {"data":{"name":"d"},"transform":[{"filter":"datum.p=='BA'"}],"mark":"line","encoding":{"x":{"field":"s","type":"ordinal","sort":["HY","SP","CL","ZO","GC"],"scale":{"type":"point","domain":["HY","SP","CL","ZO","GC"],"padding":0.4},"axis":null},"y":{"field":"v","type":"quantitative","scale":{"type":"log","domain":[0.1,10],"nice":false},"axis":{"title":null,"values":[0.1,0.2,0.3,0.4,0.5,0.6,0.7,0.8,0.9,1,2,3,4,5,6,7,8,9,10],"labelExpr":"datum.value==10?'10':datum.value==1?'1':datum.value==0.1?'0.1':''"}},"detail":{"field":"k"},"strokeWidth":{"condition":{"test":"datum.k=='m'","value":3},"value":1.5}}},
  {"data":{"values":[{"t":"BETA-OXIDATION"}]},"mark":{"type":"text","baseline":"top","dy":10,"fontSize":20},"encoding":{"x":{"datum":"CL","type":"ordinal"},"y":{"datum":10,"type":"quantitative"},"text":{"field":"t"}}},
  {"data":{"values":[{"t":"A:12"}]},"mark":{"type":"text","align":"right","baseline":"alphabetic","dx":15,"dy":-5,"fontSize":17},"encoding":{"x":{"datum":"GC","type":"ordinal"},"y":{"datum":0.1,"type":"quantitative"},"text":{"field":"t"}}}
 ]},
 {"width":226,"height":156,"layer":[
  {"data":{"name":"d"},"transform":[{"filter":"datum.p=='BB'"}],"mark":"line","encoding":{"x":{"field":"s","type":"ordinal","sort":["HY","SP","CL","ZO","GC"],"scale":{"type":"point","domain":["HY","SP","CL","ZO","GC"],"padding":0.4},"axis":null},"y":{"field":"v","type":"quantitative","scale":{"type":"log","domain":[0.1,10],"nice":false},"axis":{"title":null,"values":[0.1,0.2,0.3,0.4,0.5,0.6,0.7,0.8,0.9,1,2,3,4,5,6,7,8,9,10],"labelExpr":"datum.value==1?'1':datum.value==0.1?'0.1':''"}},"detail":{"field":"k"},"strokeWidth":{"condition":{"test":"datum.k=='m'","value":3},"value":1.5}}},
  {"data":{"values":[{"t":"B:3"}]},"mark":{"type":"text","align":"right","baseline":"alphabetic","dx":15,"dy":-5,"fontSize":17},"encoding":{"x":{"datum":"GC","type":"ordinal"},"y":{"datum":0.1,"type":"quantitative"},"text":{"field":"t"}}}
 ]},
 {"width":226,"height":21,"data":{"values":[]},"mark":"point","encoding":{},"view":{"stroke":null}},
 {"width":226,"height":160,"layer":[
  {"data":{"name":"d"},"transform":[{"filter":"datum.p=='IA'"}],"mark":"line","encoding":{"x":{"field":"s","type":"ordinal","sort":["HY","SP","CL","ZO","GC"],"scale":{"type":"point","domain":["HY","SP","CL","ZO","GC"],"padding":0.4},"axis":null},"y":{"field":"v","type":"quantitative","scale":{"type":"log","domain":[0.015,10.5],"nice":false},"axis":{"title":null,"values":[0.02,0.03,0.04,0.05,0.06,0.07,0.08,0.09,0.1,0.2,0.3,0.4,0.5,0.6,0.7,0.8,0.9,1,2,3,4,5,6,7,8,9,10],"labelExpr":"datum.value==10?'10':datum.value==1?'1':datum.value==0.1?'0.1':''"}},"detail":{"field":"k"},"strokeWidth":{"condition":{"test":"datum.k=='m'","value":3},"value":1.5}}},
  {"data":{"values":[{"t":"ION CHANNELS"}]},"mark":{"type":"text","baseline":"top","dy":10,"fontSize":20},"encoding":{"x":{"datum":"CL","type":"ordinal"},"y":{"datum":10.5,"type":"quantitative"},"text":{"field":"t"}}},
  {"data":{"values":[{"t":"A:13"}]},"mark":{"type":"text","align":"right","baseline":"alphabetic","dx":15,"dy":-5,"fontSize":17},"encoding":{"x":{"datum":"GC","type":"ordinal"},"y":{"datum":0.015,"type":"quantitative"},"text":{"field":"t"}}}
 ]},
 {"width":226,"height":155,"layer":[
  {"data":{"name":"d"},"transform":[{"filter":"datum.p=='IB'"}],"mark":"line","encoding":{"x":{"field":"s","type":"ordinal","sort":["HY","SP","CL","ZO","GC"],"scale":{"type":"point","domain":["HY","SP","CL","ZO","GC"],"padding":0.4},"axis":null},"y":{"field":"v","type":"quantitative","scale":{"type":"log","domain":[0.02,11],"nice":false},"axis":{"title":null,"values":[0.02,0.03,0.04,0.05,0.06,0.07,0.08,0.09,0.1,0.2,0.3,0.4,0.5,0.6,0.7,0.8,0.9,1,2,3,4,5,6,7,8,9,10],"labelExpr":"datum.value==10?'10':datum.value==1?'1':datum.value==0.1?'0.1':''"}},"detail":{"field":"k"},"strokeWidth":{"condition":{"test":"datum.k=='m'","value":3},"value":1.5}}},
  {"data":{"values":[{"t":"B:9"}]},"mark":{"type":"text","align":"right","baseline":"alphabetic","dx":15,"dy":-5,"fontSize":17},"encoding":{"x":{"datum":"GC","type":"ordinal"},"y":{"datum":0.02,"type":"quantitative"},"text":{"field":"t"}}}
 ]},
 {"width":226,"height":172,"layer":[
  {"data":{"name":"d"},"transform":[{"filter":"datum.p=='IC'"}],"mark":"line","encoding":{"x":{"field":"s","type":"ordinal","sort":["HY","SP","CL","ZO","GC"],"scale":{"type":"point","domain":["HY","SP","CL","ZO","GC"],"padding":0.4},"axis":{"title":null}},"y":{"field":"v","type":"quantitative","scale":{"type":"log","domain":[0.009,11],"nice":false},"axis":{"title":null,"values":[0.01,0.02,0.03,0.04,0.05,0.06,0.07,0.08,0.09,0.1,0.2,0.3,0.4,0.5,0.6,0.7,0.8,0.9,1,2,3,4,5,6,7,8,9,10],"labelExpr":"datum.value==10?'10':datum.value==1?'1':datum.value==0.1?'0.1':datum.value==0.01?'0.01':''"}},"detail":{"field":"k"},"strokeWidth":{"condition":{"test":"datum.k=='m'","value":3},"value":1.5}}},
  {"data":{"values":[{"t":"C:10"}]},"mark":{"type":"text","align":"right","baseline":"alphabetic","dx":15,"dy":-5,"fontSize":17},"encoding":{"x":{"datum":"GC","type":"ordinal"},"y":{"datum":0.009,"type":"quantitative"},"text":{"field":"t"}}}
 ]}
]},
{"spacing":0,"bounds":"flush","vconcat":[
 {"width":227,"height":167,"layer":[
  {"data":{"name":"d"},"transform":[{"filter":"datum.p=='CA'"}],"mark":"line","encoding":{"x":{"field":"s","type":"ordinal","sort":["HY","SP","CL","ZO","GC"],"scale":{"type":"point","domain":["HY","SP","CL","ZO","GC"],"padding":0.4},"axis":null},"y":{"field":"v","type":"quantitative","scale":{"type":"log","domain":[0.013,10.4],"nice":false},"axis":{"title":null,"values":[0.02,0.03,0.04,0.05,0.06,0.07,0.08,0.09,0.1,0.2,0.3,0.4,0.5,0.6,0.7,0.8,0.9,1,2,3,4,5,6,7,8,9,10],"labelExpr":"datum.value==10?'10':datum.value==1?'1':datum.value==0.1?'0.1':''"}},"detail":{"field":"k"},"strokeWidth":{"condition":{"test":"datum.k=='m'","value":3},"value":1.5}}},
  {"data":{"values":[{"t":"CWD ENZYMES"}]},"mark":{"type":"text","baseline":"top","dy":10,"fontSize":20},"encoding":{"x":{"datum":"CL","type":"ordinal"},"y":{"datum":10.4,"type":"quantitative"},"text":{"field":"t"}}},
  {"data":{"values":[{"t":"A:4"}]},"mark":{"type":"text","align":"right","baseline":"alphabetic","dx":15,"dy":-5,"fontSize":17},"encoding":{"x":{"datum":"GC","type":"ordinal"},"y":{"datum":0.013,"type":"quantitative"},"text":{"field":"t"}}}
 ]},
 {"width":227,"height":150,"layer":[
  {"data":{"name":"d"},"transform":[{"filter":"datum.p=='CB'"}],"mark":"line","encoding":{"x":{"field":"s","type":"ordinal","sort":["HY","SP","CL","ZO","GC"],"scale":{"type":"point","domain":["HY","SP","CL","ZO","GC"],"padding":0.4},"axis":null},"y":{"field":"v","type":"quantitative","scale":{"type":"log","domain":[0.018,11.5],"nice":false},"axis":{"title":null,"values":[0.02,0.03,0.04,0.05,0.06,0.07,0.08,0.09,0.1,0.2,0.3,0.4,0.5,0.6,0.7,0.8,0.9,1,2,3,4,5,6,7,8,9,10],"labelExpr":"datum.value==10?'10':datum.value==1?'1':datum.value==0.1?'0.1':''"}},"detail":{"field":"k"},"strokeWidth":{"condition":{"test":"datum.k=='m'","value":3},"value":1.5}}},
  {"data":{"values":[{"t":"B:4"}]},"mark":{"type":"text","align":"right","baseline":"alphabetic","dx":15,"dy":-5,"fontSize":17},"encoding":{"x":{"datum":"GC","type":"ordinal"},"y":{"datum":0.018,"type":"quantitative"},"text":{"field":"t"}}}
 ]},
 {"width":227,"height":151,"layer":[
  {"data":{"name":"d"},"transform":[{"filter":"datum.p=='CC'"}],"mark":"line","encoding":{"x":{"field":"s","type":"ordinal","sort":["HY","SP","CL","ZO","GC"],"scale":{"type":"point","domain":["HY","SP","CL","ZO","GC"],"padding":0.4},"axis":null},"y":{"field":"v","type":"quantitative","scale":{"type":"log","domain":[0.01,12],"nice":false},"axis":{"title":null,"values":[0.01,0.02,0.03,0.04,0.05,0.06,0.07,0.08,0.09,0.1,0.2,0.3,0.4,0.5,0.6,0.7,0.8,0.9,1,2,3,4,5,6,7,8,9,10],"labelExpr":"datum.value==10?'10':datum.value==1?'1':datum.value==0.1?'0.1':datum.value==0.01?'0.01':''"}},"detail":{"field":"k"},"strokeWidth":{"condition":{"test":"datum.k=='m'","value":3},"value":1.5}}},
  {"data":{"values":[{"t":"C:9"}]},"mark":{"type":"text","align":"right","baseline":"alphabetic","dx":15,"dy":-5,"fontSize":17},"encoding":{"x":{"datum":"GC","type":"ordinal"},"y":{"datum":0.01,"type":"quantitative"},"text":{"field":"t"}}}
 ]},
 {"width":227,"height":26,"data":{"values":[]},"mark":"point","encoding":{},"view":{"stroke":null}},
 {"width":227,"height":168,"layer":[
  {"data":{"name":"d"},"transform":[{"filter":"datum.p=='NA'"}],"mark":"line","encoding":{"x":{"field":"s","type":"ordinal","sort":["HY","SP","CL","ZO","GC"],"scale":{"type":"point","domain":["HY","SP","CL","ZO","GC"],"padding":0.4},"axis":null},"y":{"field":"v","type":"quantitative","scale":{"type":"log","domain":[0.1,10],"nice":false},"axis":{"title":null,"values":[0.1,0.2,0.3,0.4,0.5,0.6,0.7,0.8,0.9,1,2,3,4,5,6,7,8,9,10],"labelExpr":"datum.value==10?'10':datum.value==1?'1':datum.value==0.1?'0.1':''"}},"detail":{"field":"k"},"strokeWidth":{"condition":{"test":"datum.k=='m'","value":3},"value":1.5}}},
  {"data":{"values":[{"t":"GLUCONEOGENESIS"}]},"mark":{"type":"text","baseline":"top","dy":10,"fontSize":20},"encoding":{"x":{"datum":"CL","type":"ordinal"},"y":{"datum":10,"type":"quantitative"},"text":{"field":"t"}}},
  {"data":{"values":[{"t":"A:5"}]},"mark":{"type":"text","align":"right","baseline":"alphabetic","dx":15,"dy":-5,"fontSize":17},"encoding":{"x":{"datum":"GC","type":"ordinal"},"y":{"datum":0.1,"type":"quantitative"},"text":{"field":"t"}}}
 ]},
 {"width":227,"height":170,"layer":[
  {"data":{"name":"d"},"transform":[{"filter":"datum.p=='NB'"}],"mark":"line","encoding":{"x":{"field":"s","type":"ordinal","sort":["HY","SP","CL","ZO","GC"],"scale":{"type":"point","domain":["HY","SP","CL","ZO","GC"],"padding":0.4},"axis":{"title":null}},"y":{"field":"v","type":"quantitative","scale":{"type":"log","domain":[0.1,10],"nice":false},"axis":{"title":null,"values":[0.1,0.2,0.3,0.4,0.5,0.6,0.7,0.8,0.9,1,2,3,4,5,6,7,8,9,10],"labelExpr":"datum.value==1?'1':datum.value==0.1?'0.1':''"}},"detail":{"field":"k"},"strokeWidth":{"condition":{"test":"datum.k=='m'","value":3},"value":1.5}}},
  {"data":{"values":[{"t":"B:3"}]},"mark":{"type":"text","align":"right","baseline":"alphabetic","dx":15,"dy":-5,"fontSize":17},"encoding":{"x":{"datum":"GC","type":"ordinal"},"y":{"datum":0.1,"type":"quantitative"},"text":{"field":"t"}}}
 ]}
]},
{"spacing":0,"bounds":"flush","vconcat":[
 {"width":229,"height":166,"layer":[
  {"data":{"name":"d"},"transform":[{"filter":"datum.p=='AA'"}],"mark":"line","encoding":{"x":{"field":"s","type":"ordinal","sort":["HY","SP","CL","ZO","GC"],"scale":{"type":"point","domain":["HY","SP","CL","ZO","GC"],"padding":0.4},"axis":null},"y":{"field":"v","type":"quantitative","scale":{"type":"log","domain":[0.1,6.3],"nice":false},"axis":{"title":null,"values":[0.1,0.2,0.3,0.4,0.5,0.6,0.7,0.8,0.9,1,2,3,4,5,6],"labelExpr":"datum.value==1?'1':datum.value==0.1?'0.1':''"}},"detail":{"field":"k"},"strokeWidth":{"condition":{"test":"datum.k=='m'","value":3},"value":1.5}}},
  {"data":{"values":[{"t":"AMINO ACID SYN."}]},"mark":{"type":"text","baseline":"top","dy":14,"fontSize":20},"encoding":{"x":{"datum":"CL","type":"ordinal"},"y":{"datum":6.3,"type":"quantitative"},"text":{"field":"t"}}},
  {"data":{"values":[{"t":"A:22"}]},"mark":{"type":"text","align":"right","baseline":"alphabetic","dx":15,"dy":-5,"fontSize":17},"encoding":{"x":{"datum":"GC","type":"ordinal"},"y":{"datum":0.1,"type":"quantitative"},"text":{"field":"t"}}}
 ]},
 {"width":229,"height":166,"layer":[
  {"data":{"name":"d"},"transform":[{"filter":"datum.p=='AB'"}],"mark":"line","encoding":{"x":{"field":"s","type":"ordinal","sort":["HY","SP","CL","ZO","GC"],"scale":{"type":"point","domain":["HY","SP","CL","ZO","GC"],"padding":0.4},"axis":null},"y":{"field":"v","type":"quantitative","scale":{"type":"log","domain":[0.1,6.3],"nice":false},"axis":{"title":null,"values":[0.1,0.2,0.3,0.4,0.5,0.6,0.7,0.8,0.9,1,2,3,4,5,6],"labelExpr":"datum.value==1?'1':datum.value==0.1?'0.1':''"}},"detail":{"field":"k"},"strokeWidth":{"condition":{"test":"datum.k=='m'","value":3},"value":1.5}}},
  {"data":{"values":[{"t":"B:8"}]},"mark":{"type":"text","align":"right","baseline":"alphabetic","dx":15,"dy":-5,"fontSize":17},"encoding":{"x":{"datum":"GC","type":"ordinal"},"y":{"datum":0.1,"type":"quantitative"},"text":{"field":"t"}}}
 ]},
 {"width":229,"height":167,"layer":[
  {"data":{"name":"d"},"transform":[{"filter":"datum.p=='AC'"}],"mark":"line","encoding":{"x":{"field":"s","type":"ordinal","sort":["HY","SP","CL","ZO","GC"],"scale":{"type":"point","domain":["HY","SP","CL","ZO","GC"],"padding":0.4},"axis":null},"y":{"field":"v","type":"quantitative","scale":{"type":"log","domain":[0.1,6.3],"nice":false},"axis":{"title":null,"values":[0.1,0.2,0.3,0.4,0.5,0.6,0.7,0.8,0.9,1,2,3,4,5,6],"labelExpr":"datum.value==1?'1':datum.value==0.1?'0.1':''"}},"detail":{"field":"k"},"strokeWidth":{"condition":{"test":"datum.k=='m'","value":3},"value":1.5}}},
  {"data":{"values":[{"t":"C:6"}]},"mark":{"type":"text","align":"right","baseline":"alphabetic","dx":15,"dy":-5,"fontSize":17},"encoding":{"x":{"datum":"GC","type":"ordinal"},"y":{"datum":0.1,"type":"quantitative"},"text":{"field":"t"}}}
 ]},
 {"width":229,"height":166,"layer":[
  {"data":{"name":"d"},"transform":[{"filter":"datum.p=='AD'"}],"mark":"line","encoding":{"x":{"field":"s","type":"ordinal","sort":["HY","SP","CL","ZO","GC"],"scale":{"type":"point","domain":["HY","SP","CL","ZO","GC"],"padding":0.4},"axis":null},"y":{"field":"v","type":"quantitative","scale":{"type":"log","domain":[0.1,6.3],"nice":false},"axis":{"title":null,"values":[0.1,0.2,0.3,0.4,0.5,0.6,0.7,0.8,0.9,1,2,3,4,5,6],"labelExpr":"datum.value==1?'1':datum.value==0.1?'0.1':''"}},"detail":{"field":"k"},"strokeWidth":{"condition":{"test":"datum.k=='m'","value":3},"value":1.5}}},
  {"data":{"values":[{"t":"D:19"}]},"mark":{"type":"text","align":"right","baseline":"alphabetic","dx":15,"dy":-5,"fontSize":17},"encoding":{"x":{"datum":"GC","type":"ordinal"},"y":{"datum":0.1,"type":"quantitative"},"text":{"field":"t"}}}
 ]},
 {"width":229,"height":167,"layer":[
  {"data":{"name":"d"},"transform":[{"filter":"datum.p=='AE'"}],"mark":"line","encoding":{"x":{"field":"s","type":"ordinal","sort":["HY","SP","CL","ZO","GC"],"scale":{"type":"point","domain":["HY","SP","CL","ZO","GC"],"padding":0.4},"axis":{"title":null}},"y":{"field":"v","type":"quantitative","scale":{"type":"log","domain":[0.1,6.3],"nice":false},"axis":{"title":null,"values":[0.1,0.2,0.3,0.4,0.5,0.6,0.7,0.8,0.9,1,2,3,4,5,6],"labelExpr":"datum.value==1?'1':datum.value==0.1?'0.1':''"}},"detail":{"field":"k"},"strokeWidth":{"condition":{"test":"datum.k=='m'","value":3},"value":1.5}}},
  {"data":{"values":[{"t":"E:10"}]},"mark":{"type":"text","align":"right","baseline":"alphabetic","dx":15,"dy":-5,"fontSize":17},"encoding":{"x":{"datum":"GC","type":"ordinal"},"y":{"datum":0.1,"type":"quantitative"},"text":{"field":"t"}}}
 ]}
]}
]
}
